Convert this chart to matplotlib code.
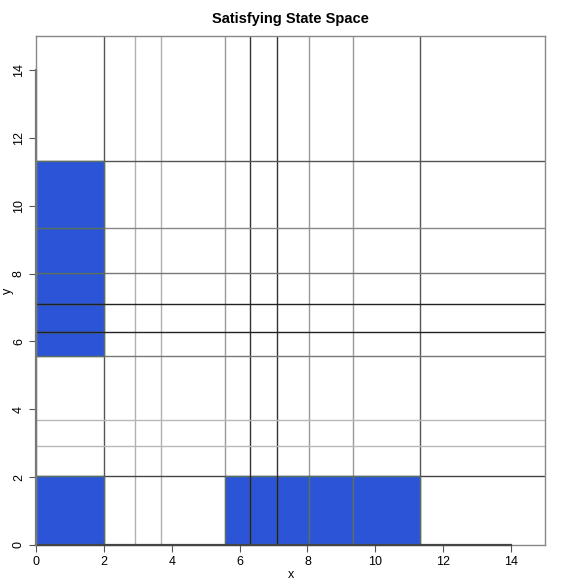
import matplotlib
matplotlib.use('Agg')
import matplotlib.pyplot as plt
from matplotlib.patches import Rectangle

plt.rcParams['font.family'] = ['Liberation Sans', 'DejaVu Sans']

# grid boundaries of the state space partition
x_bounds = [0, 2.0, 2.92, 3.69, 5.57, 6.30, 7.10, 8.05, 9.35, 11.33, 15]
y_bounds = [0, 2.02, 2.91, 3.68, 5.58, 6.29, 7.10, 8.03, 9.33, 11.32, 15]

# colours of the interior partition lines
x_line_colors = ['#555555', '#b0b0b0', '#b0b0b0', '#999999', '#333333', '#333333', '#999999', '#999999', '#555555']
y_line_colors = ['#444444', '#b8b8b8', '#b8b8b8', '#777777', '#222222', '#222222', '#777777', '#888888', '#555555']

# satisfying cells as (column index, row index)
sat_cells = [(0, 0), (0, 4), (0, 5), (0, 6), (0, 7), (0, 8),
             (4, 0), (5, 0), (6, 0), (7, 0), (8, 0)]

fig = plt.figure(figsize=(5.81, 5.81), dpi=100)
ax = fig.add_axes([36 / 581, 36 / 581, 509 / 581, 509 / 581])

for xv, c in zip(x_bounds[1:-1], x_line_colors):
    ax.axvline(xv, color=c, linewidth=1.0, zorder=1)
for yv, c in zip(y_bounds[1:-1], y_line_colors):
    ax.axhline(yv, color=c, linewidth=1.0, zorder=1)

for i, j in sat_cells:
    x0, x1 = x_bounds[i], x_bounds[i + 1]
    y0, y1 = y_bounds[j], y_bounds[j + 1]
    ax.add_patch(Rectangle((x0, y0), x1 - x0, y1 - y0, facecolor='#2b55d6',
                           edgecolor='#5a6e62', linewidth=1.0, zorder=2))

# redraw dark lines on top where they cross blue cells
for xv, c in zip(x_bounds[1:-1], x_line_colors):
    if c == '#333333':
        ax.plot([xv, xv], [0, y_bounds[1]], color='#222222', linewidth=1.0, zorder=3)
for yv, c in zip(y_bounds[1:-1], y_line_colors):
    if c == '#222222':
        ax.plot([0, x_bounds[1]], [yv, yv], color='#222222', linewidth=1.0, zorder=3)

ax.set_xlim(0, 15)
ax.set_ylim(0, 15)

# R-style axis lines spanning first to last tick
ax.plot([0, 14], [0, 0], color='#444444', linewidth=1.6, zorder=4, clip_on=False)
ax.plot([0, 0], [0, 14], color='#777777', linewidth=1.6, zorder=4, clip_on=False)

for s in ax.spines.values():
    s.set_color('#888888')
    s.set_linewidth(1.0)

ticks = list(range(0, 15, 2))
ax.set_xticks(ticks)
ax.set_yticks(ticks)
ax.set_yticklabels([str(t) for t in ticks], rotation=90, va='center')
ax.tick_params(direction='out', length=5, width=0.8, color='#555555', labelsize=9, pad=3)

ax.set_xlabel('x', fontsize=9, va='center')
ax.set_ylabel('y', fontsize=9, va='center')
ax.xaxis.set_label_coords(0.5, -30 / 509)
ax.yaxis.set_label_coords(-28 / 509, 0.5)
ax.set_title('Satisfying State Space', fontsize=10.5, fontweight='bold', pad=9)

plt.savefig('out.png', dpi=100)
